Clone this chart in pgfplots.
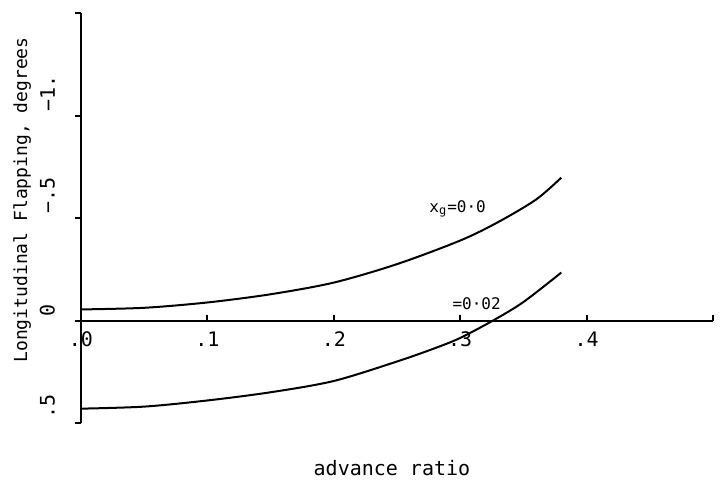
\documentclass[border=0pt]{standalone}
\usepackage{fontspec}
\setmainfont{DejaVu Sans Mono}
\usepackage{pgfplots}
\pgfplotsset{compat=1.18}
\pgfplotstableread{
x y
0.00 -0.054
0.05 -0.062
0.10 -0.088
0.15 -0.128
0.20 -0.185
0.25 -0.275
0.30 -0.390
0.33 -0.480
0.36 -0.590
0.38 -0.697
}\curveA
\pgfplotstableread{
x y
0.00 0.430
0.05 0.420
0.10 0.390
0.15 0.350
0.20 0.295
0.25 0.200
0.28 0.135
0.30 0.085
0.326 0.000
0.35 -0.090
0.38 -0.234
}\curveB
\begin{document}
\begin{tikzpicture}
\path[use as bounding box] (-40.5pt,-29pt) rectangle (323pt,211.5pt);
\begin{axis}[
  scale only axis, width=316pt, height=205pt,
  xmin=0, xmax=0.5, ymin=-1.5, ymax=0.5, y dir=reverse,
  axis x line=middle, axis y line=left,
  axis line style={-, line width=1pt},
  xtick align=outside, ytick align=outside,
  hide obscured x ticks=false, hide obscured y ticks=false,
  major tick length=3pt,
  tick style={line width=1pt, black},
  xtick={0,0.1,0.2,0.3,0.4,0.5}, xticklabels={.0,.1,.2,.3,.4,{}},
  ytick={-1.5,-1,-0.5,0,0.5}, yticklabels={{},−1.,−.5,0,.5},
  minor tick num=0,
  every tick label/.append style={font=\fontsize{10}{12}\selectfont},
  xticklabel style={anchor=north, yshift=1pt},
  yticklabel style={rotate=90, anchor=south west, xshift=-1.5pt, yshift=6.5pt},
  xlabel={advance ratio},
  xlabel style={at={(axis description cs:0.492,-0.11)}, anchor=center, font=\fontsize{10}{12}\selectfont},
  ylabel={Longitudinal Flapping, degrees},
  ylabel style={at={(axis description cs:-0.093,0.544)}, anchor=center, rotate=0, font=\fontsize{9}{12}\selectfont},
  clip=false,
]
\addplot[black, line width=1pt, smooth] table {\curveA};
\addplot[black, line width=1pt, smooth] table {\curveB};
\node[font=\fontsize{8}{10}\selectfont] at (axis cs:0.298,-0.546) {x\textsubscript{g}=0·0};
\node[font=\fontsize{8}{10}\selectfont] at (axis cs:0.313,-0.083) {=0·02};
\end{axis}
\end{tikzpicture}
\end{document}
